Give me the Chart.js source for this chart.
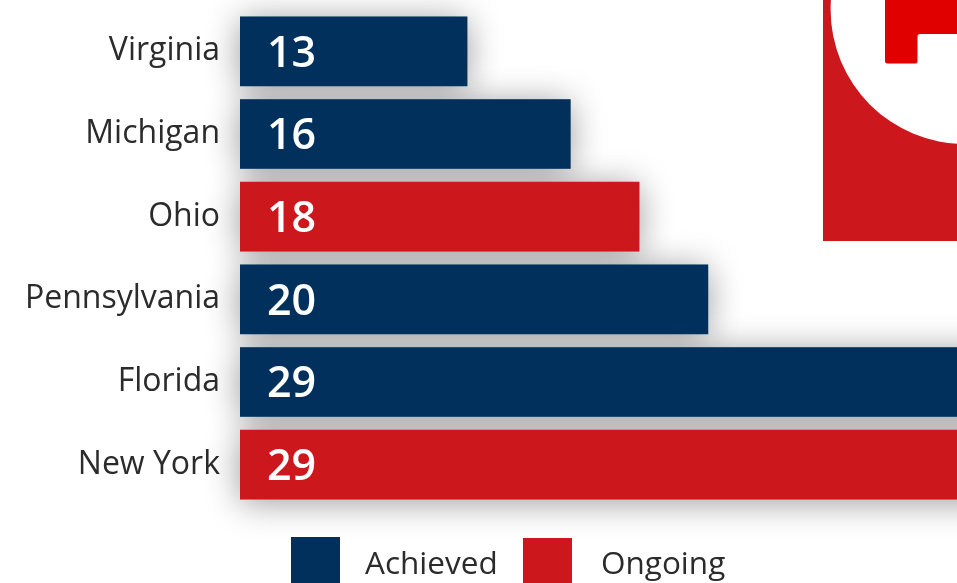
<!DOCTYPE html>
<html>
<head>
<meta charset="utf-8">
<style>
  html, body { margin: 0; padding: 0; background: #fff; overflow: hidden; }
  canvas { display: block; }
</style>
<script src="https://cdn.jsdelivr.net/npm/chart.js@4"></script>
</head>
<body>
<canvas id="miGrafico" width="957" height="583"></canvas>
<script>
const states = ['Virginia', 'Michigan', 'Ohio', 'Pennsylvania', 'Florida', 'New York'];
const achieved = [13, 16, null, 20, 29, null];
const ongoing = [null, null, 18, null, null, 29];

const NAVY = '#01305c';
const RED = '#cc171d';
// the value axis does not start at zero in the picture
const AXIS_MIN = 6.4;
const AXIS_MAX = 27.24;

// soft shadow goes in its own pass so it never lands on a neighbouring bar
const barShadow = {
    id: 'barShadow',
    beforeDatasetsDraw(chart) {
        const ctx = chart.ctx;
        ctx.save();
        ctx.shadowColor = 'rgba(0,0,0,0.4)';
        ctx.shadowBlur = 34;
        ctx.shadowOffsetY = 3;
        ctx.fillStyle = '#888';
        chart.data.datasets.forEach((ds, i) => {
            chart.getDatasetMeta(i).data.forEach((bar, j) => {
                if (ds.data[j] === null) return;
                ctx.fillRect(bar.base, bar.y - bar.height / 2, bar.x - bar.base, bar.height);
            });
        });
        ctx.restore();
    }
};

const barValues = {
    id: 'barValues',
    afterDatasetsDraw(chart) {
        const ctx = chart.ctx;
        ctx.save();
        ctx.fillStyle = '#fff';
        ctx.font = '600 43px "Open Sans"';
        ctx.textAlign = 'left';
        ctx.textBaseline = 'middle';
        chart.data.datasets.forEach((ds, i) => {
            chart.getDatasetMeta(i).data.forEach((bar, j) => {
                if (ds.data[j] === null) return;
                ctx.fillText(ds.data[j], bar.base + 27, bar.y + 3);
            });
        });
        ctx.restore();
    }
};

// red panel with the cropped emblem, top right
const emblem = {
    id: 'emblem',
    beforeDraw(chart) {
        const ctx = chart.ctx;
        ctx.save();
        ctx.fillStyle = RED;
        ctx.fillRect(823, 0, 134, 241);
        ctx.fillStyle = '#fff';
        ctx.beginPath();
        ctx.arc(965, 9.6, 134.4, 0, Math.PI * 2);
        ctx.fill();
        ctx.fillStyle = '#e00000';
        ctx.beginPath();
        ctx.moveTo(885, 0);
        ctx.lineTo(957, 0);
        ctx.lineTo(957, 34);
        ctx.lineTo(920, 34);
        ctx.arcTo(917.5, 34, 917.5, 37, 2.5);
        ctx.lineTo(917.5, 60.5);
        ctx.arcTo(917.5, 63.5, 914.5, 63.5, 2.5);
        ctx.lineTo(888, 63.5);
        ctx.arcTo(885, 63.5, 885, 60.5, 2.5);
        ctx.closePath();
        ctx.fill();
        ctx.restore();
    }
};

const bottomLegend = {
    id: 'bottomLegend',
    afterDraw(chart) {
        const ctx = chart.ctx;
        const spots = [
            { box: 291, top: 537, text: 365 },
            { box: 523, top: 538, text: 601 }
        ];
        ctx.save();
        ctx.font = '31.5px "Open Sans"';
        ctx.textAlign = 'left';
        ctx.textBaseline = 'middle';
        chart.data.datasets.forEach((ds, i) => {
            ctx.fillStyle = ds.backgroundColor;
            ctx.fillRect(spots[i].box, spots[i].top, 49, 46);
            ctx.fillStyle = '#2b2b2b';
            ctx.fillText(ds.label, spots[i].text, 565);
        });
        ctx.restore();
    }
};

new Chart(document.getElementById('miGrafico'), {
    type: 'bar',
    data: {
        labels: states,
        datasets: [
            { label: 'Achieved', data: achieved, backgroundColor: NAVY, barThickness: 69, grouped: false, base: AXIS_MIN },
            { label: 'Ongoing', data: ongoing, backgroundColor: RED, barThickness: 69, grouped: false, base: AXIS_MIN }
        ]
    },
    options: {
        indexAxis: 'y',
        responsive: false,
        animation: false,
        layout: { padding: { top: 10, bottom: 77 } },
        plugins: {
            legend: { display: false },
            tooltip: { enabled: false }
        },
        scales: {
            x: {
                display: false,
                min: AXIS_MIN,
                max: AXIS_MAX
            },
            y: {
                afterFit(scale) {
                    scale.width = 240;
                    scale.paddingTop = 0;
                    scale.paddingBottom = 0;
                },
                border: { display: false },
                grid: { display: false, drawTicks: false },
                ticks: {
                    color: '#2b2b2b',
                    padding: 20,
                    font: { family: '"Open Sans"', size: 32 }
                }
            }
        }
    },
    plugins: [emblem, barShadow, barValues, bottomLegend]
});
</script>
</body>
</html>
